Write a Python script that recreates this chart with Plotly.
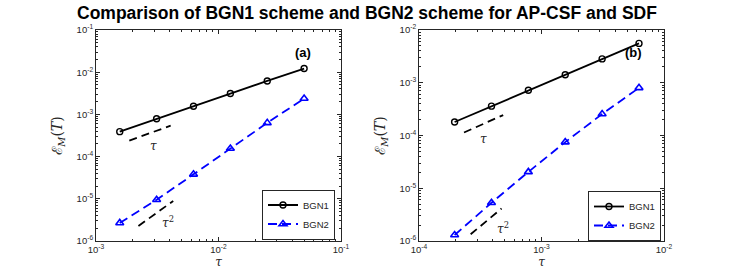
import numpy as np
import plotly.graph_objects as go

# ---- data ----
tau_a = [0.0015625, 0.003125, 0.00625, 0.0125, 0.025, 0.05]
bgn1_a = [3.9e-4, 7.9e-4, 1.56e-3, 3.12e-3, 6.2e-3, 1.22e-2]
bgn2_a = [2.68e-6, 9.5e-6, 3.8e-5, 1.56e-4, 6.3e-4, 2.38e-3]

tau_b = [1.953125e-4, 3.90625e-4, 7.8125e-4, 1.5625e-3, 3.125e-3, 6.25e-3]
bgn1_b = [1.8e-4, 3.6e-4, 7.2e-4, 1.42e-3, 2.83e-3, 5.57e-3]
bgn2_b = [1.3e-6, 5.3e-6, 2.04e-5, 7.5e-5, 2.55e-4, 8.0e-4]

# reference slope lines
ref1_a_x = [1.87e-3, 4.07e-3]
ref1_a_y = [2.4e-4, 5.4e-4]
ref2_a_x = [2.22e-3, 4.27e-3]
ref2_a_y = [2.27e-6, 8.9e-6]
ref1_b_x = [2.33e-4, 4.87e-4]
ref1_b_y = [1.14e-4, 2.44e-4]
ref2_b_x = [2.64e-4, 4.72e-4]
ref2_b_y = [1.34e-6, 4.13e-6]

xt_a = [1e-3, 1e-2, 1e-1]
xt_a_text = ["10<sup>-3</sup>", "10<sup>-2</sup>", "10<sup>-1</sup>"]
yt_a = [1e-6, 1e-5, 1e-4, 1e-3, 1e-2, 1e-1]
yt_a_text = ["10<sup>-6</sup>", "10<sup>-5</sup>", "10<sup>-4</sup>", "10<sup>-3</sup>", "10<sup>-2</sup>", "10<sup>-1</sup>"]
xt_b = [1e-4, 1e-3, 1e-2]
xt_b_text = ["10<sup>-4</sup>", "10<sup>-3</sup>", "10<sup>-2</sup>"]
yt_b = [1e-6, 1e-5, 1e-4, 1e-3, 1e-2]
yt_b_text = ["10<sup>-6</sup>", "10<sup>-5</sup>", "10<sup>-4</sup>", "10<sup>-3</sup>", "10<sup>-2</sup>"]

title = "Comparison of BGN1 scheme and BGN2 scheme for AP-CSF and SDF"

W, H = 734, 277
AX = "#262626"
FONT = "Liberation Sans, Arial, sans-serif"


def minor_vals(lo, hi):
    return [m * 10.0 ** e for e in range(lo, hi) for m in range(2, 10)]


fig = go.Figure()


def add_panel(xa, ya, tau, b1, b2, r1x, r1y, r2x, r2y, legend):
    fig.add_trace(go.Scatter(x=tau, y=b1, mode="lines+markers", name="BGN1",
                             line=dict(color="black", width=1.8),
                             marker=dict(symbol="circle-open", size=6, color="black", line=dict(width=1.4)),
                             xaxis=xa, yaxis=ya, legend=legend))
    fig.add_trace(go.Scatter(x=tau, y=b2, mode="lines+markers", name="BGN2",
                             line=dict(color="blue", width=1.8, dash="9px,5px"),
                             marker=dict(symbol="triangle-up-open", size=7, color="blue", line=dict(width=1.6)),
                             xaxis=xa, yaxis=ya, legend=legend))
    for rx, ry in ((r1x, r1y), (r2x, r2y)):
        fig.add_trace(go.Scatter(x=rx, y=ry, mode="lines", showlegend=False,
                                 line=dict(color="black", width=1.8, dash="8px,5px"),
                                 xaxis=xa, yaxis=ya, hoverinfo="skip"))


add_panel("x", "y", tau_a, bgn1_a, bgn2_a, ref1_a_x, ref1_a_y, ref2_a_x, ref2_a_y, "legend")
add_panel("x2", "y2", tau_b, bgn1_b, bgn2_b, ref1_b_x, ref1_b_y, ref2_b_x, ref2_b_y, "legend2")

y0, y1 = 1 - 241 / H, 1 - 30 / H


def common(rng, tv, tt, mv):
    return dict(type="log", range=rng, tickmode="array", tickvals=tv, ticktext=tt,
                showline=True, linecolor=AX, linewidth=1, mirror="ticks",
                ticks="inside", ticklen=4, tickcolor=AX, showgrid=False, zeroline=False,
                minor=dict(tickmode="array", tickvals=mv, ticks="inside", ticklen=2,
                           tickcolor=AX, showgrid=False),
                tickfont=dict(family=FONT, size=9.5, color=AX), automargin=False)


def xaxis(dom, rng, tv, tt, mv, anchor):
    d = common(rng, tv, tt, mv)
    d.update(domain=dom, anchor=anchor,
             title=dict(text="<i>τ</i>", font=dict(family="DejaVu Serif", size=12, color=AX), standoff=3))
    return d


def yaxis(dom, rng, tv, tt, mv, anchor):
    d = common(rng, tv, tt, mv)
    d.update(domain=dom, anchor=anchor,
             title=dict(text="ℰ<sub><i>M</i></sub>(<i>T</i>)",
                        font=dict(family="DejaVu Serif", size=14, color=AX), standoff=10))
    return d


leg_common = dict(xanchor="left", yanchor="middle", bordercolor=AX, borderwidth=1, bgcolor="white",
                  font=dict(family=FONT, size=9.5, color=AX), tracegroupgap=0, itemwidth=30)

fig.update_layout(
    width=W, height=H,
    margin=dict(l=0, r=0, t=0, b=0, autoexpand=False),
    paper_bgcolor="white", plot_bgcolor="white",
    font=dict(family=FONT, color=AX),
    title=dict(text="<b>" + title + "</b>", x=0.5, xanchor="center", y=1 - 13 / H, yanchor="middle",
               xref="paper", yref="container", font=dict(family=FONT, size=17.5, color="black")),
    xaxis=xaxis([96 / W, 341 / W], [-3, -1], xt_a, xt_a_text, minor_vals(-3, -1), "y"),
    yaxis=yaxis([y0, y1], [-6, -1], yt_a, yt_a_text, minor_vals(-6, -1), "x"),
    xaxis2=xaxis([419 / W, 664 / W], [-4, -2], xt_b, xt_b_text, minor_vals(-4, -2), "y2"),
    yaxis2=yaxis([y0, y1], [-6, -2], yt_b, yt_b_text, minor_vals(-6, -2), "x2"),
    legend=dict(x=262 / W, y=1 - 214.5 / H, **leg_common),
    legend2=dict(x=588 / W, y=1 - 216 / H, **leg_common),
    showlegend=True,
)

ann = [
    dict(x=np.log10(0.0487), y=np.log10(0.0295), xref="x", yref="y", text="<b>(a)</b>",
         font=dict(family=FONT, size=13, color="black")),
    dict(x=np.log10(5.66e-3), y=np.log10(3.8e-3), xref="x2", yref="y2", text="<b>(b)</b>",
         font=dict(family=FONT, size=13, color="black")),
    dict(x=np.log10(2.97e-3), y=np.log10(1.78e-4), xref="x", yref="y", text="<i>τ</i>",
         font=dict(family="DejaVu Serif", size=12, color=AX)),
    dict(x=np.log10(3.9e-3), y=np.log10(2.8e-6), xref="x", yref="y", text="<i>τ</i><sup>2</sup>",
         font=dict(family="DejaVu Serif", size=12, color=AX)),
    dict(x=np.log10(3.39e-4), y=np.log10(8.7e-5), xref="x2", yref="y2", text="<i>τ</i>",
         font=dict(family="DejaVu Serif", size=12, color=AX)),
    dict(x=np.log10(4.87e-4), y=np.log10(1.78e-6), xref="x2", yref="y2", text="<i>τ</i><sup>2</sup>",
         font=dict(family="DejaVu Serif", size=12, color=AX)),
]
for a in ann:
    a.update(showarrow=False, xanchor="center", yanchor="middle")
fig.update_layout(annotations=ann)

fig.write_html("out.html", config={"displayModeBar": False},
               post_script="document.body.style.margin='0px';")
